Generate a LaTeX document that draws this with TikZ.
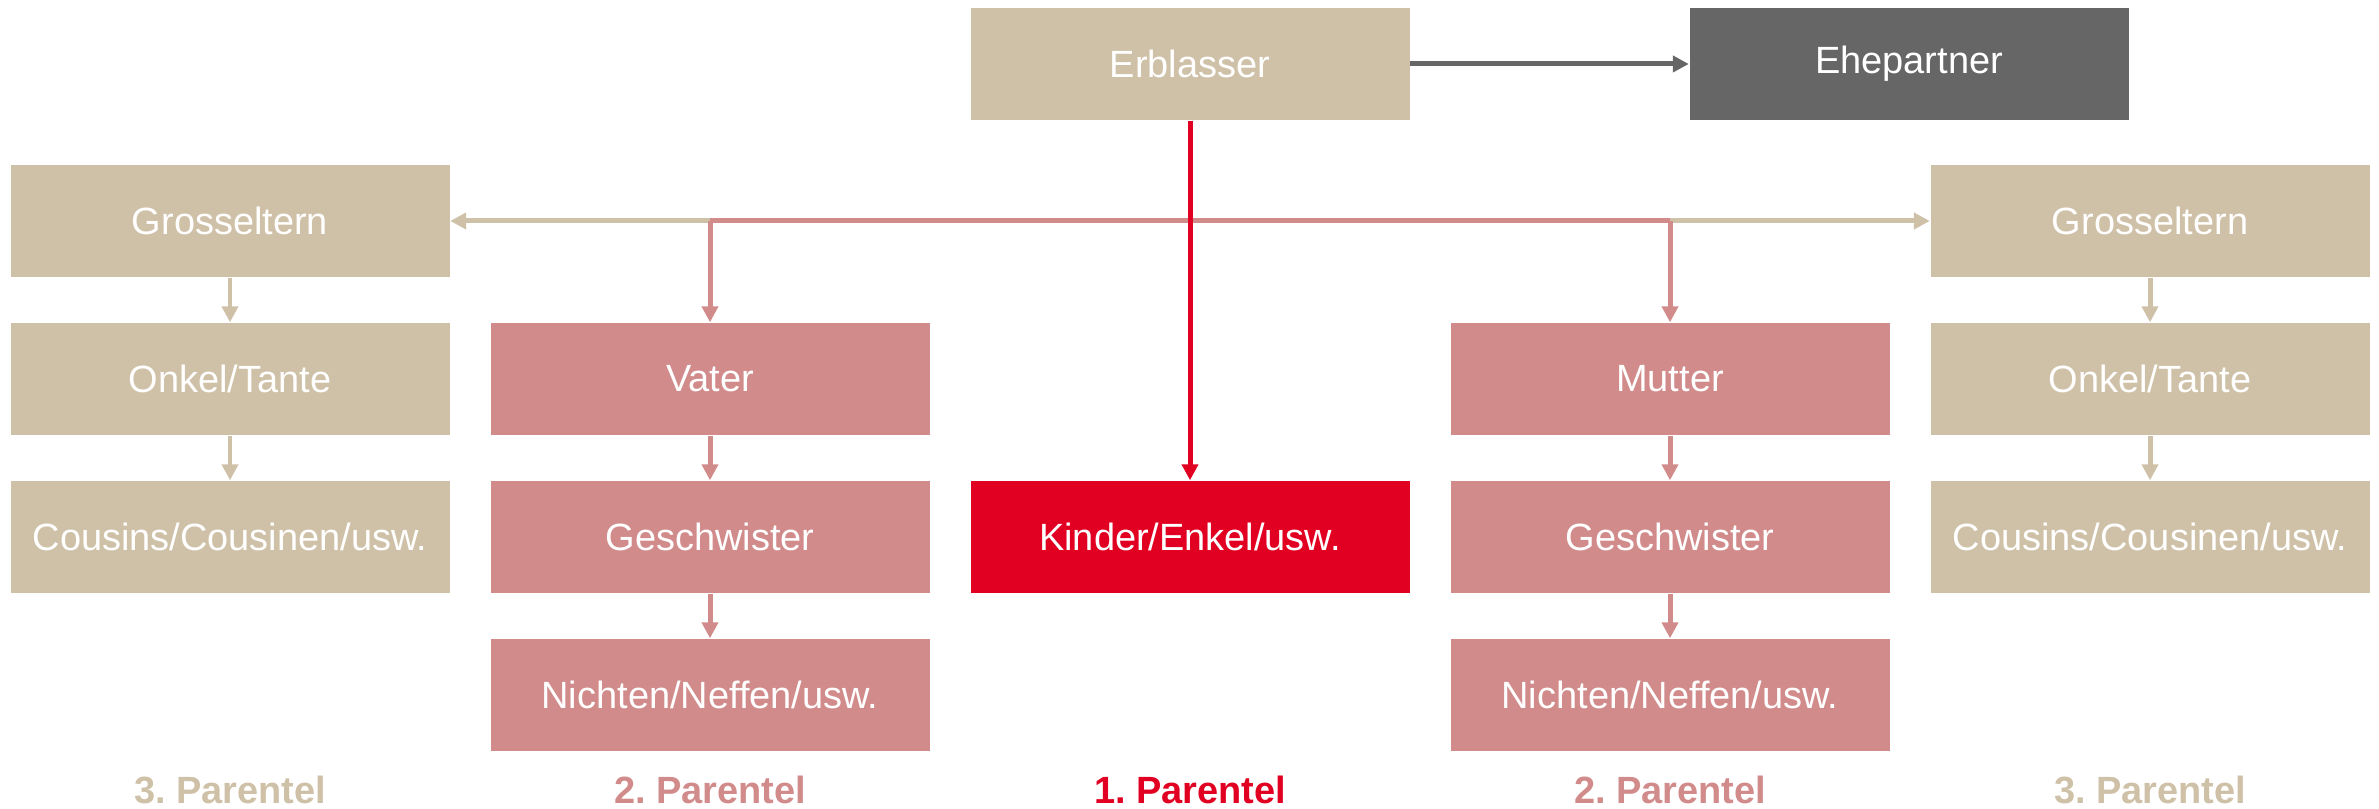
\documentclass[tikz,border=0pt]{standalone}
\usepackage{fontspec}
\setmainfont{Liberation Sans}
\usepackage{xcolor}
\usetikzlibrary{positioning,calc,arrows.meta}
\frenchspacing

\definecolor{tanbox}{RGB}{207,193,167}
\definecolor{pinkbox}{RGB}{210,139,139}
\definecolor{redbox}{RGB}{226,0,34}
\definecolor{graybox}{RGB}{102,102,102}

\tikzset{
    box/.style={rectangle, minimum width=4.39cm, minimum height=1.12cm, inner sep=0pt,
        text=white, font=\fontsize{10.8}{12}\selectfont},
    tanbx/.style={box, fill=tanbox},
    pinkbx/.style={box, fill=pinkbox},
    redbx/.style={box, fill=redbox},
    graybx/.style={box, fill=graybox},
    link/.style={line width=1.42pt, -{Triangle[length=0.16cm, width=0.16cm]}},
    parentel/.style={font=\fontsize{10.8}{12}\selectfont\bfseries}
}

\begin{document}
\begin{tikzpicture}
    \useasboundingbox (0,-8.09) rectangle (23.79,0);

    % Top row
    \node[tanbx] (erb) at (11.90,-0.64) {Erblasser};
    \node[graybx] (ehe) at (19.09,-0.64) {Ehepartner};

    % Grandparents
    \node[tanbx] (grl) at (2.30,-2.21) {Grosseltern};
    \node[tanbx] (grr) at (21.50,-2.21) {Grosseltern};

    % Parents row
    \node[tanbx] (onl) at (2.30,-3.79) {Onkel/Tante};
    \node[pinkbx] (vat) at (7.10,-3.79) {Vater};
    \node[pinkbx] (mut) at (16.70,-3.79) {Mutter};
    \node[tanbx] (onr) at (21.50,-3.79) {Onkel/Tante};

    % Third row
    \node[tanbx] (cosl) at (2.30,-5.37) {Cousins/Cousinen/usw.};
    \node[pinkbx] (gesl) at (7.10,-5.37) {Geschwister};
    \node[redbx] (kind) at (11.90,-5.37) {Kinder/Enkel/usw.};
    \node[pinkbx] (gesr) at (16.70,-5.37) {Geschwister};
    \node[tanbx] (cosr) at (21.50,-5.37) {Cousins/Cousinen/usw.};

    % Fourth row
    \node[pinkbx] (nicl) at (7.10,-6.95) {Nichten/Neffen/usw.};
    \node[pinkbx] (nicr) at (16.70,-6.95) {Nichten/Neffen/usw.};

    % Labels
    \node[parentel, text=tanbox] (p3l) at (2.30,-7.90) {3. Parentel};
    \node[parentel, text=pinkbox] (p2l) at (7.10,-7.90) {2. Parentel};
    \node[parentel, text=redbox] (p1) at (11.90,-7.90) {1. Parentel};
    \node[parentel, text=pinkbox] (p2r) at (16.70,-7.90) {2. Parentel};
    \node[parentel, text=tanbox] (p3r) at (21.50,-7.90) {3. Parentel};

    % Branch points
    \coordinate (brl) at (vat |- grl);
    \coordinate (brr) at (mut |- grr);

    % Connectors
    \draw[link, graybox] (erb) -- (ehe);
    \draw[link, tanbox] (brl) -- (grl);
    \draw[link, tanbox] (brr) -- (grr);
    \draw[line width=1.42pt, pinkbox] (brl) -- (brr);
    \draw[link, pinkbox] (brl) -- (vat);
    \draw[link, pinkbox] (brr) -- (mut);
    \draw[link, tanbox] (grl) -- (onl);
    \draw[link, tanbox] (onl) -- (cosl);
    \draw[link, tanbox] (grr) -- (onr);
    \draw[link, tanbox] (onr) -- (cosr);
    \draw[link, pinkbox] (vat) -- (gesl);
    \draw[link, pinkbox] (gesl) -- (nicl);
    \draw[link, pinkbox] (mut) -- (gesr);
    \draw[link, pinkbox] (gesr) -- (nicr);
    \draw[link, redbox] (erb) -- (kind);
\end{tikzpicture}
\end{document}
